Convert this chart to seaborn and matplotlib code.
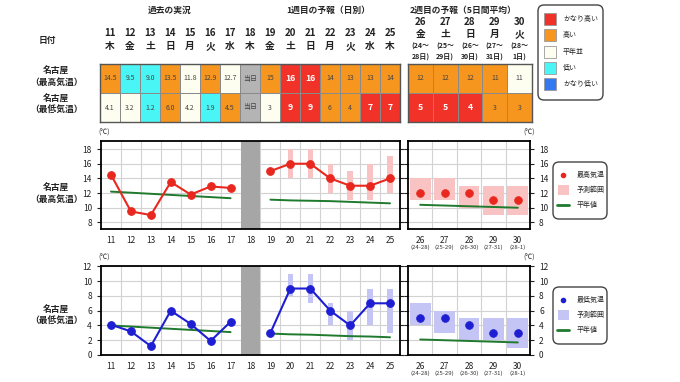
import matplotlib
matplotlib.use("Agg")
import matplotlib.pyplot as plt
import seaborn as sns
import pandas as pd
import numpy as np
from matplotlib.colors import ListedColormap
from matplotlib.patches import Rectangle, FancyBboxPatch
from matplotlib.ticker import FixedLocator

sns.set_style("white")
plt.rcParams["font.family"] = ["Noto Sans CJK JP", "DejaVu Sans"]

# ---- data ----
days_main = list(range(11, 26))
weekdays_main = ["木", "金", "土", "日", "月", "火", "水", "木", "金", "土", "日", "月", "火", "水", "木"]
days_w2 = [26, 27, 28, 29, 30]
weekdays_w2 = ["金", "土", "日", "月", "火"]
periods_w2 = [("(24～", "28日)"), ("(25～", "29日)"), ("(26～", "30日)"), ("(27～", "31日)"), ("(28～", "1日)")]
periods_short = ["(24-28)", "(25-29)", "(26-30)", "(27-31)", "(28-1)"]

# class codes: 0 かなり低い, 1 低い, 2 平年並, 3 高い, 4 かなり高い, 5 当日
max_class_main = [3, 1, 1, 3, 2, 3, 2, 5, 3, 4, 4, 3, 3, 3, 3]
max_class_w2 = [3, 3, 3, 3, 2]
min_class_main = [2, 2, 1, 3, 2, 1, 3, 5, 2, 4, 4, 3, 3, 4, 4]
min_class_w2 = [4, 4, 4, 3, 3]
max_text_main = ["14.5", "9.5", "9.0", "13.5", "11.8", "12.9", "12.7", "当日", "15", "16", "16", "14", "13", "13", "14"]
max_text_w2 = ["12", "12", "12", "11", "11"]
min_text_main = ["4.1", "3.2", "1.2", "6.0", "4.2", "1.9", "4.5", "当日", "3", "9", "9", "6", "4", "7", "7"]
min_text_w2 = ["5", "5", "4", "3", "3"]

past_days = [11, 12, 13, 14, 15, 16, 17]
w1_days = [19, 20, 21, 22, 23, 24, 25]
range_days = [20, 21, 22, 23, 24, 25]

max_past = [14.5, 9.5, 9.0, 13.5, 11.8, 12.9, 12.7]
max_past_norm = [12.2, 12.05, 11.9, 11.75, 11.6, 11.45, 11.3]
max_w1 = [15, 16, 16, 14, 13, 13, 14]
max_w1_norm = [11.1, 11.0, 10.95, 10.9, 10.8, 10.7, 10.6]
max_w1_lo = [14, 14, 12, 11, 11, 12]
max_w1_hi = [18, 18, 16, 15, 16, 17]
max_w2 = [12, 12, 12, 11, 11]
max_w2_lo = [11, 11, 10, 9, 9]
max_w2_hi = [14, 14, 13, 13, 13]
max_w2_norm = [10.4, 10.3, 10.2, 10.1, 10.0]

min_past = [4.1, 3.2, 1.2, 6.0, 4.2, 1.9, 4.5]
min_past_norm = [4.0, 3.85, 3.7, 3.55, 3.4, 3.25, 3.1]
min_w1 = [3, 9, 9, 6, 4, 7, 7]
min_w1_norm = [2.9, 2.8, 2.75, 2.65, 2.55, 2.5, 2.4]
min_w1_lo = [8, 7, 4, 2, 4, 3]
min_w1_hi = [11, 11, 7, 6, 9, 9]
min_w2 = [5, 5, 4, 3, 3]
min_w2_lo = [4, 3, 2, 2, 1]
min_w2_hi = [7, 6, 5, 5, 5]
min_w2_norm = [2.1, 2.0, 1.9, 1.8, 1.7]

class_colors = ["#3278f0", "#4af5f5", "#fdfdf0", "#f7961e", "#f03228", "#b4b4b4"]
class_names = ["かなり高い", "高い", "平年並", "低い", "かなり低い"]

W, H = 680, 382
fig = plt.figure(figsize=(W / 100, H / 100), dpi=100)


def box(x0, y0, x1, y1):
    return [x0 / W, 1 - y1 / H, (x1 - x0) / W, (y1 - y0) / H]


# overlay in pixel coordinates for headers, labels and legend boxes
ov = fig.add_axes([0, 0, 1, 1])
ov.set_xlim(0, W)
ov.set_ylim(H, 0)
ov.axis("off")

# ---- header texts ----
ov.text(170, 10, "過去の実況", ha="center", va="center", fontsize=6.3, fontweight="bold")
ov.text(328, 10, "1週目の予報（日別）", ha="center", va="center", fontsize=6.3, fontweight="bold")
ov.text(463, 10, "2週目の予報（5日間平均）", ha="center", va="center", fontsize=6.3, fontweight="bold")
ov.text(47, 40, "日付", ha="center", va="center", fontsize=6.3, fontweight="bold")
for i, (d, w) in enumerate(zip(days_main, weekdays_main)):
    x = 100 + 20 * (i + 0.5)
    ov.text(x, 33, str(d), ha="center", va="center", fontsize=7, fontweight="bold", color="#222222")
    ov.text(x, 46, w, ha="center", va="center", fontsize=7, fontweight="bold", color="#222222")
for i, (d, w, p) in enumerate(zip(days_w2, weekdays_w2, periods_w2)):
    x = 408 + 24.8 * (i + 0.5)
    ov.text(x, 22, str(d), ha="center", va="center", fontsize=7, fontweight="bold", color="#222222")
    ov.text(x, 34, w, ha="center", va="center", fontsize=7, fontweight="bold", color="#222222")
    ov.text(x, 46, p[0], ha="center", va="center", fontsize=5, fontweight="bold", color="#222222")
    ov.text(x, 57, p[1], ha="center", va="center", fontsize=5, fontweight="bold", color="#222222")

for y, lab in [(77, "名古屋\n（最高気温）"), (105, "名古屋\n（最低気温）"),
               (194, "名古屋\n（最高気温）"), (316, "名古屋\n（最低気温）")]:
    ov.text(56, y, lab, ha="center", va="center", fontsize=6.3, fontweight="bold", linespacing=1.3,
            color="#222222")

# ---- class legend (top right) ----
ov.add_patch(FancyBboxPatch((538, 5), 65, 95, boxstyle="round,pad=0,rounding_size=6",
                            fc="white", ec="#444444", lw=1))
for i, name in enumerate(class_names):
    y = 13 + 16.3 * i
    ov.add_patch(Rectangle((544, y), 12, 12, fc=class_colors[4 - i], ec="#999999", lw=0.6))
    ov.text(563, y + 6, name, ha="left", va="center", fontsize=5)

# ---- tables ----
cmap = ListedColormap(class_colors)


def draw_table(rect, classes, texts):
    ax = fig.add_axes(rect)
    df = pd.DataFrame(classes)
    sns.heatmap(df, cmap=cmap, vmin=-0.5, vmax=5.5, cbar=False, annot=np.array(texts), fmt="",
                linewidths=0.6, linecolor="#8a8a8a", xticklabels=False, yticklabels=False,
                annot_kws={"fontsize": 5}, ax=ax)
    for t in ax.texts:
        x, y = t.get_position()
        c = classes[int(y)][int(x)]
        if c == 4:
            t.set_color("white")
            t.set_fontweight("bold")
            t.set_fontsize(6.3)
        else:
            t.set_color("#444444")
    for s in ax.spines.values():
        s.set_visible(True)
        s.set_color("#555555")
        s.set_linewidth(1)
    return ax


draw_table(box(100, 64, 400, 122), [max_class_main, min_class_main], [max_text_main, min_text_main])
draw_table(box(408, 64, 532, 122), [max_class_w2, min_class_w2], [max_text_w2, min_text_w2])


# ---- charts ----
def style_axes(ax, xs, ylim, yticks):
    ax.set_ylim(*ylim)
    ax.set_xlim(xs[0] - 0.5, xs[-1] + 0.5)
    ax.yaxis.set_major_locator(FixedLocator(yticks))
    ax.xaxis.set_major_locator(FixedLocator(xs))
    ax.xaxis.set_minor_locator(FixedLocator([x + 0.5 for x in xs[:-1]]))
    ax.grid(False)
    for y in yticks:
        ax.axhline(y, color="#d2d2d2", lw=0.8, zorder=0)
    for x in xs[:-1]:
        ax.axvline(x + 0.5, color="#d2d2d2", lw=0.8, zorder=0)
    for s in ax.spines.values():
        s.set_visible(True)
        s.set_color("black")
        s.set_linewidth(1.3)
    ax.tick_params(axis="x", which="major", length=0, labelsize=6, pad=5, colors="#222222")
    ax.tick_params(axis="x", which="minor", length=3, width=0.8, direction="out")
    ax.tick_params(axis="y", length=3, width=0.8, labelsize=6, left=True, right=True, direction="out",
                   colors="#222222")
    ax.set_xlabel("")
    ax.set_ylabel("")


def draw_chart(y0, y1, ylim, yticks, past, past_n, w1, w1_n, w1_lo, w1_hi, w2, w2_lo, w2_hi, w2_n,
               color, band, label):
    ax = fig.add_axes(box(101, y0, 400, y1))
    ax.axvspan(17.5, 18.5, color="#a6a6a6", zorder=1, lw=0)
    ax.bar(range_days, np.array(w1_hi) - np.array(w1_lo), bottom=w1_lo, width=0.27, color=band,
           zorder=2, lw=0)
    sns.lineplot(x=past_days, y=past_n, color="#1f7a2e", lw=1.4, ax=ax, zorder=3)
    sns.lineplot(x=w1_days, y=w1_n, color="#1f7a2e", lw=1.4, ax=ax, zorder=3)
    sns.lineplot(x=past_days, y=past, color=color, lw=1.5, marker="o", ms=5.5, mec=color, ax=ax, zorder=4)
    sns.lineplot(x=w1_days, y=w1, color=color, lw=1.5, marker="o", ms=5.5, mec=color, ax=ax, zorder=4)
    style_axes(ax, list(range(11, 26)), ylim, yticks)
    ax.tick_params(axis="y", labelright=False)

    axw = fig.add_axes(box(408, y0, 530, y1))
    axw.bar(days_w2, np.array(w2_hi) - np.array(w2_lo), bottom=w2_lo, width=0.85, color=band,
            zorder=2, lw=0)
    sns.lineplot(x=days_w2, y=w2_n, color="#1f7a2e", lw=1.4, ax=axw, zorder=3)
    sns.scatterplot(x=days_w2, y=w2, color=color, s=32, edgecolor=color, ax=axw, zorder=4)
    style_axes(axw, days_w2, ylim, yticks)
    axw.tick_params(axis="y", labelleft=False, labelright=True)
    for d, p in zip(days_w2, periods_short):
        axw.annotate(p, xy=(d, 0), xycoords=("data", "axes fraction"), xytext=(0, -13),
                     textcoords="offset points", ha="center", va="center", fontsize=4.3, color="#333333")

    ov.text(104, y0 - 8, "(℃)", ha="center", va="center", fontsize=5)
    ov.text(529, y0 - 8, "(℃)", ha="center", va="center", fontsize=5)

    # legend box
    ov.add_patch(FancyBboxPatch((553, y0 + 21), 54, 57, boxstyle="round,pad=0,rounding_size=6",
                                fc="white", ec="#444444", lw=1))
    ov.plot([563], [y0 + 34], "o", color=color, ms=3)
    ov.text(577, y0 + 34, label, ha="left", va="center", fontsize=5)
    ov.add_patch(Rectangle((557.5, y0 + 44), 11, 10, fc=band, lw=0))
    ov.text(577, y0 + 49, "予測範囲", ha="left", va="center", fontsize=5)
    ov.plot([557, 569], [y0 + 64, y0 + 64], color="#1f7a2e", lw=2)
    ov.text(577, y0 + 64, "平年値", ha="left", va="center", fontsize=5)


draw_chart(141, 229, (7.1, 19.1), [8, 10, 12, 14, 16, 18], max_past, max_past_norm, max_w1, max_w1_norm,
           max_w1_lo, max_w1_hi, max_w2, max_w2_lo, max_w2_hi, max_w2_norm, "#e8281e", "#f9c3c3", "最高気温")
draw_chart(266, 355, (0, 12.05), [0, 2, 4, 6, 8, 10, 12], min_past, min_past_norm, min_w1, min_w1_norm,
           min_w1_lo, min_w1_hi, min_w2, min_w2_lo, min_w2_hi, min_w2_norm, "#1e1ed2", "#c4c4f5", "最低気温")

fig.savefig("out.png", dpi=100)
